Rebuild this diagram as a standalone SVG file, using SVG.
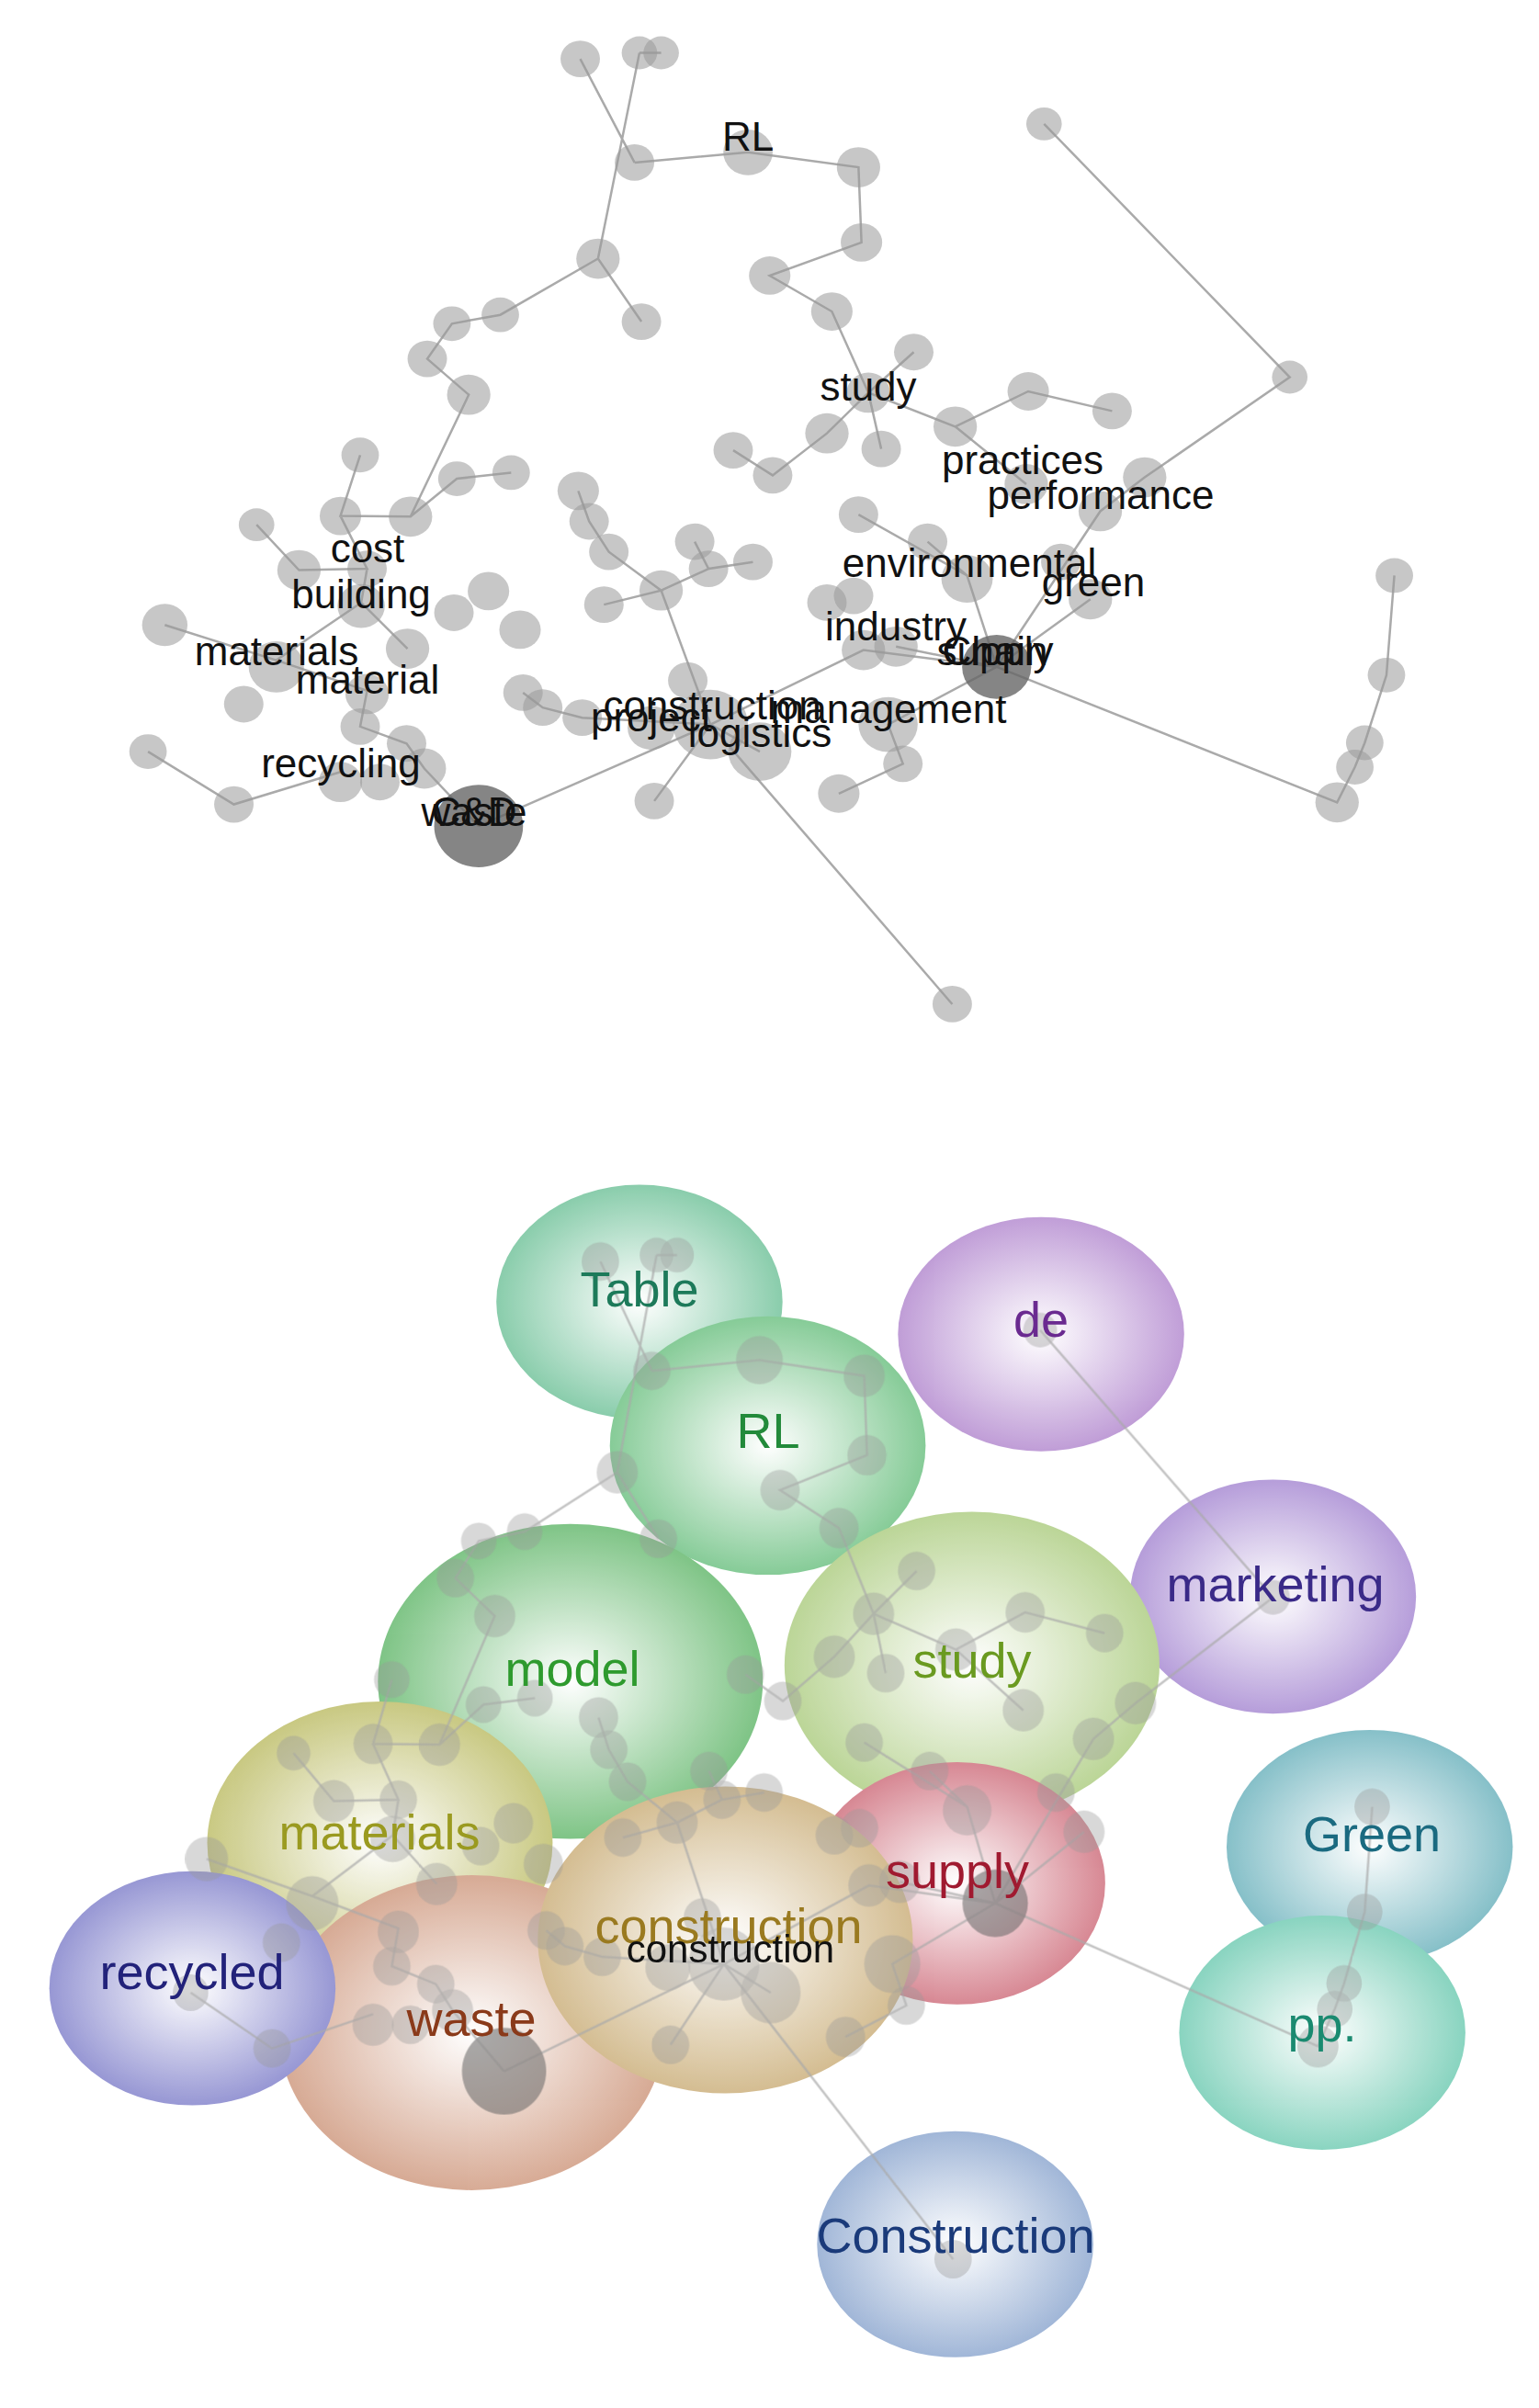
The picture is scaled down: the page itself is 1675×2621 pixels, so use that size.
<svg xmlns="http://www.w3.org/2000/svg" xmlns:xlink="http://www.w3.org/1999/xlink" width="1675" height="2621" viewBox="0 0 1675 2621">
<style>
.e{stroke:#aaa;stroke-width:2.5;fill:none;vector-effect:non-scaling-stroke}
.n{fill:#999;fill-opacity:.55;transform-box:fill-box;transform-origin:center;transform:scaleY(1.35)}
.d{fill:#666;fill-opacity:.8;transform-box:fill-box;transform-origin:center;transform:scaleY(1.35)}
.t{font-family:"Liberation Sans",Arial,sans-serif;font-size:44px;fill:#111;text-anchor:middle}
.b{font-family:"Liberation Sans",Arial,sans-serif;font-size:54px;text-anchor:middle}
</style>
<defs>
<g id="edges">
<path class="e" d="M588,87L643,240M648,78L606,382M670,78L648,78M643,240L758,225L870,247L873,358L780,407L843,460L880,580L893,663M880,580L926,520M880,580L968,630L1042,578L1127,607M880,580L838,640L783,702L743,665M968,630L1040,715M1058,183L1307,557L1160,705L1115,755L1010,985M606,382L650,475M606,382L507,465L458,478L433,530L475,583L416,763L345,762L365,672M416,763L463,707L518,698M345,762L372,840L303,842L260,775M372,840L366,890L413,958M366,890L280,975L167,923M280,975L372,1020L365,1073L412,1098L430,1135L485,1220M345,1140L237,1188L150,1110M586,725L597,770L617,815L670,872L612,893M704,800L718,840L763,830M718,840L670,872L720,1070M530,1023L550,1045L590,1060L720,1070L485,1220M720,1070L663,1183M720,1070L965,1483M720,1070L770,1110M720,1070L875,960L1010,985L908,955M1010,985L980,850L870,760M980,850L940,800M1010,985L1105,885M1010,985L1355,1185L1373,1133L1383,1097L1405,997L1413,850M1010,985L900,1070L915,1128L850,1172"/>
</g>
<g id="nodes">
<g id="n1"><circle class="n" cx="588" cy="87" r="20"/></g>
<g id="n2"><circle class="n" cx="648" cy="78" r="18"/></g>
<g id="n3"><circle class="n" cx="670" cy="78" r="18"/></g>
<g id="n4"><circle class="n" cx="643" cy="240" r="20"/></g>
<g id="nRL"><circle class="n" cx="758" cy="225" r="25"/></g>
<g id="n5"><circle class="n" cx="870" cy="247" r="22"/></g>
<g id="n6"><circle class="n" cx="873" cy="358" r="21"/></g>
<g id="n7"><circle class="n" cx="780" cy="407" r="21"/></g>
<g id="n8"><circle class="n" cx="843" cy="460" r="21"/></g>
<g id="n9"><circle class="n" cx="926" cy="520" r="20"/></g>
<g id="nstudy"><circle class="n" cx="880" cy="580" r="22"/></g>
<g id="n10"><circle class="n" cx="1042" cy="578" r="21"/></g>
<g id="n11"><circle class="n" cx="1127" cy="607" r="20"/></g>
<g id="n12"><circle class="n" cx="968" cy="630" r="22"/></g>
<g id="n13"><circle class="n" cx="838" cy="640" r="22"/></g>
<g id="n14"><circle class="n" cx="893" cy="663" r="20"/></g>
<g id="n15"><circle class="n" cx="743" cy="665" r="20"/></g>
<g id="n16"><circle class="n" cx="783" cy="702" r="20"/></g>
<g id="n17"><circle class="n" cx="1058" cy="183" r="18"/></g>
<g id="n18"><circle class="n" cx="1307" cy="557" r="18"/></g>
<g id="n19"><circle class="n" cx="1160" cy="705" r="22"/></g>
<g id="npr"><circle class="n" cx="1040" cy="715" r="22"/></g>
<g id="npe"><circle class="n" cx="1115" cy="755" r="22"/></g>
<g id="n20"><circle class="n" cx="606" cy="382" r="22"/></g>
<g id="n21"><circle class="n" cx="650" cy="475" r="20"/></g>
<g id="n22"><circle class="n" cx="507" cy="465" r="19"/></g>
<g id="n23"><circle class="n" cx="458" cy="478" r="19"/></g>
<g id="n24"><circle class="n" cx="433" cy="530" r="20"/></g>
<g id="n25"><circle class="n" cx="475" cy="583" r="22"/></g>
<g id="n26"><circle class="n" cx="365" cy="672" r="19"/></g>
<g id="n27"><circle class="n" cx="463" cy="707" r="19"/></g>
<g id="n28"><circle class="n" cx="518" cy="698" r="19"/></g>
<g id="n29"><circle class="n" cx="345" cy="762" r="21"/></g>
<g id="n30"><circle class="n" cx="416" cy="763" r="22"/></g>
<g id="n31"><circle class="n" cx="260" cy="775" r="18"/></g>
<g id="n32"><circle class="n" cx="303" cy="842" r="22"/></g>
<g id="ncost"><circle class="n" cx="372" cy="840" r="20"/></g>
<g id="nbuild"><circle class="n" cx="366" cy="895" r="24"/></g>
<g id="n33"><circle class="n" cx="495" cy="873" r="21"/></g>
<g id="n34"><circle class="n" cx="460" cy="905" r="20"/></g>
<g id="n35"><circle class="n" cx="527" cy="930" r="21"/></g>
<g id="n36"><circle class="n" cx="167" cy="923" r="23"/></g>
<g id="nmats"><circle class="n" cx="280" cy="985" r="28"/></g>
<g id="n37"><circle class="n" cx="413" cy="958" r="22"/></g>
<g id="nmat"><circle class="n" cx="372" cy="1025" r="22"/></g>
<g id="n38"><circle class="n" cx="247" cy="1040" r="20"/></g>
<g id="n39"><circle class="n" cx="365" cy="1073" r="20"/></g>
<g id="n40"><circle class="n" cx="412" cy="1098" r="20"/></g>
<g id="n41"><circle class="n" cx="150" cy="1110" r="19"/></g>
<g id="n42"><circle class="n" cx="237" cy="1188" r="20"/></g>
<g id="nrec"><circle class="n" cx="345" cy="1155" r="22"/><circle class="n" cx="385" cy="1155" r="20"/></g>
<g id="n43"><circle class="n" cx="430" cy="1135" r="22"/></g>
<g id="nwaste"><circle class="d" cx="485" cy="1220" r="45"/></g>
<g id="n44"><circle class="n" cx="586" cy="725" r="21"/></g>
<g id="n45"><circle class="n" cx="597" cy="770" r="20"/></g>
<g id="n46"><circle class="n" cx="617" cy="815" r="20"/></g>
<g id="n47"><circle class="n" cx="704" cy="800" r="20"/></g>
<g id="n48"><circle class="n" cx="718" cy="840" r="20"/></g>
<g id="n49"><circle class="n" cx="763" cy="830" r="20"/></g>
<g id="n50"><circle class="n" cx="670" cy="872" r="22"/></g>
<g id="n51"><circle class="n" cx="612" cy="893" r="20"/></g>
<g id="n52"><circle class="n" cx="530" cy="1023" r="20"/></g>
<g id="n53"><circle class="n" cx="550" cy="1045" r="20"/></g>
<g id="n54"><circle class="n" cx="590" cy="1060" r="20"/></g>
<g id="n55"><circle class="n" cx="697" cy="1005" r="20"/></g>
<g id="ncons"><circle class="n" cx="720" cy="1070" r="38"/><circle class="n" cx="660" cy="1075" r="24"/></g>
<g id="nlog"><circle class="n" cx="770" cy="1110" r="32"/></g>
<g id="n56"><circle class="n" cx="663" cy="1183" r="20"/></g>
<g id="n57"><circle class="n" cx="965" cy="1483" r="20"/></g>
<g id="n58"><circle class="n" cx="870" cy="760" r="20"/></g>
<g id="n59"><circle class="n" cx="940" cy="800" r="20"/></g>
<g id="nenv"><circle class="n" cx="980" cy="855" r="26"/></g>
<g id="n60"><circle class="n" cx="1075" cy="830" r="20"/></g>
<g id="ngreen"><circle class="n" cx="1105" cy="885" r="22"/></g>
<g id="n61"><circle class="n" cx="838" cy="890" r="20"/></g>
<g id="n62"><circle class="n" cx="865" cy="880" r="20"/></g>
<g id="nind"><circle class="n" cx="875" cy="960" r="22"/></g>
<g id="n63"><circle class="n" cx="908" cy="955" r="22"/></g>
<g id="nsup"><circle class="d" cx="1010" cy="985" r="35"/></g>
<g id="nman"><circle class="n" cx="900" cy="1070" r="30"/></g>
<g id="n65"><circle class="n" cx="915" cy="1128" r="20"/></g>
<g id="n66"><circle class="n" cx="850" cy="1172" r="21"/></g>
<g id="n67"><circle class="n" cx="1413" cy="850" r="19"/></g>
<g id="n68"><circle class="n" cx="1405" cy="997" r="19"/></g>
<g id="n69"><circle class="n" cx="1383" cy="1097" r="19"/></g>
<g id="n70"><circle class="n" cx="1373" cy="1133" r="19"/></g>
<g id="n71"><circle class="n" cx="1355" cy="1185" r="22"/></g>
</g>
<radialGradient id="gT"><stop offset="0" stop-color="#fff"/><stop offset="1" stop-color="#5dba8c"/></radialGradient>
<radialGradient id="gRL"><stop offset="0" stop-color="#fff"/><stop offset="1" stop-color="#58b870"/></radialGradient>
<radialGradient id="gDe"><stop offset="0" stop-color="#fff"/><stop offset="1" stop-color="#a878c8"/></radialGradient>
<radialGradient id="gMk"><stop offset="0" stop-color="#fff"/><stop offset="1" stop-color="#9a78cc"/></radialGradient>
<radialGradient id="gMo"><stop offset="0" stop-color="#fff"/><stop offset="1" stop-color="#4eae58"/></radialGradient>
<radialGradient id="gSt"><stop offset="0" stop-color="#fff"/><stop offset="1" stop-color="#a2c670"/></radialGradient>
<radialGradient id="gMa"><stop offset="0" stop-color="#fff"/><stop offset="1" stop-color="#b4b452"/></radialGradient>
<radialGradient id="gRe"><stop offset="0" stop-color="#fff"/><stop offset="1" stop-color="#7070c4"/></radialGradient>
<radialGradient id="gWa"><stop offset="0" stop-color="#fff"/><stop offset="1" stop-color="#c88a6c"/></radialGradient>
<radialGradient id="gCo"><stop offset="0" stop-color="#fff"/><stop offset="1" stop-color="#c4a468"/></radialGradient>
<radialGradient id="gSu"><stop offset="0" stop-color="#fff"/><stop offset="1" stop-color="#c85a6a"/></radialGradient>
<radialGradient id="gGr"><stop offset="0" stop-color="#fff"/><stop offset="1" stop-color="#58a8b4"/></radialGradient>
<radialGradient id="gPp"><stop offset="0" stop-color="#fff"/><stop offset="1" stop-color="#5cc4a8"/></radialGradient>
<radialGradient id="gCn"><stop offset="0" stop-color="#fff"/><stop offset="1" stop-color="#7c9ac8"/></radialGradient>
</defs>
<rect width="1675" height="2621" fill="#fff"/>
<g transform="scale(1.074,0.737)">
<g id="connectors"><use xlink:href="#edges"/></g>
<use xlink:href="#nodes"/>
</g>
<g class="t">
<text x="814" y="164">RL</text>
<text x="945" y="436">study</text>
<text x="1113" y="516">practices</text>
<text x="1198" y="554">performance</text>
<text x="1055" y="628">environmental</text>
<text x="1190" y="649">green</text>
<text x="975" y="697">industry</text>
<text x="1083" y="724">supply</text>
<text x="1083" y="724">Chain</text>
<text x="400" y="612">cost</text>
<text x="393" y="662">building</text>
<text x="301" y="724">materials</text>
<text x="400" y="755">material</text>
<text x="371" y="846">recycling</text>
<text x="516" y="899">waste</text>
<text x="516" y="899">C&amp;D</text>
<text x="775" y="783">construction</text>
<text x="709" y="796">project</text>
<text x="967" y="787">management</text>
<text x="827" y="813">logistics</text>
</g>
<g transform="translate(0,1250) scale(1.074,0.879)">
<g id="bubbles" opacity=".72">
<circle cx="648" cy="190" r="145" fill="url(#gT)"/>
<circle cx="1055" cy="230" r="145" fill="url(#gDe)"/>
<circle cx="778" cy="368" r="160" fill="url(#gRL)"/>
<circle cx="1290" cy="555" r="145" fill="url(#gMk)"/>
<circle cx="985" cy="640" r="190" fill="url(#gSt)"/>
<circle cx="578" cy="660" r="195" fill="url(#gMo)"/>
<circle cx="385" cy="860" r="175" fill="url(#gMa)"/>
<circle cx="1388" cy="865" r="145" fill="url(#gGr)"/>
<circle cx="1340" cy="1095" r="145" fill="url(#gPp)"/>
<circle cx="970" cy="910" r="150" fill="url(#gSu)"/>
<circle cx="478" cy="1095" r="195" fill="url(#gWa)"/>
<circle cx="735" cy="980" r="190" fill="url(#gCo)"/>
<circle cx="195" cy="1040" r="145" fill="url(#gRe)"/>
<circle cx="968" cy="1357" r="140" fill="url(#gCn)"/>
</g>
<g transform="matrix(0.948 0 0 0.885 51 63)" opacity=".7">
<use xlink:href="#edges"/>
<use xlink:href="#nodes"/>
</g>
</g>
<g class="b">
<text x="696" y="1422" fill="#1d7a5a">Table</text>
<text x="1133" y="1455" fill="#6a2a90">de</text>
<text x="836" y="1576" fill="#228a3a">RL</text>
<text x="1388" y="1743" fill="#3a2a88">marketing</text>
<text x="623" y="1835" fill="#2e9a2e">model</text>
<text x="1058" y="1826" fill="#6a9a20">study</text>
<text x="413" y="2013" fill="#9a9a20">materials</text>
<text x="1493" y="2015" fill="#1a6a80">Green</text>
<text x="1439" y="2222" fill="#1a8a70">pp.</text>
<text x="1042" y="2055" fill="#a01a30">supply</text>
<text x="793" y="2115" fill="#9a7a20">construction</text>
<text x="513" y="2216" fill="#8a3a1a">waste</text>
<text x="209" y="2165" fill="#22227a">recycled</text>
<text x="1040" y="2452" fill="#1a3a7a">Construction</text>
<text x="795" y="2136" fill="#111" font-size="42">construction</text>
</g>
</svg>
